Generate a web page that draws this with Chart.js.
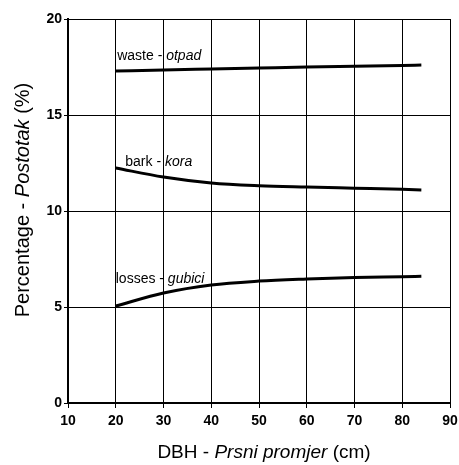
<!DOCTYPE html>
<html>
<head>
<meta charset="utf-8">
<script src="https://cdn.jsdelivr.net/npm/chart.js@4"></script>
<style>
  body { margin: 0; background: #fff; }
  #wrap { width: 459px; height: 465px; }
</style>
</head>
<body>
<div id="wrap"><canvas id="chart" width="459" height="465"></canvas></div>
<script>
// DBH values (cm) and percentages
const dbh = [20, 30, 40, 50, 60, 70, 80, 84];
const waste = [17.29, 17.35, 17.4, 17.45, 17.5, 17.54, 17.58, 17.6];
const bark = [12.24, 11.77, 11.46, 11.32, 11.25, 11.19, 11.13, 11.1];
const losses = [5.05, 5.73, 6.15, 6.35, 6.46, 6.54, 6.58, 6.6];

const xTicks = [10, 20, 30, 40, 50, 60, 70, 80, 90];
const yTicks = [0, 5, 10, 15, 20];

// curve labels: [x, y, plain part, italic part]
const curveLabels = [
    [20.3, 17.85, 'waste - ', 'otpad'],
    [22.0, 12.35, 'bark - ', 'kora'],
    [20.0, 6.25, 'losses - ', 'gubici']
];

const FONT = '"Liberation Sans", Arial, sans-serif';

function toPoints(ys) {
    return dbh.map((x, i) => ({ x: x, y: ys[i] }));
}

function series(ys) {
    return {
        data: toPoints(ys),
        borderColor: '#000',
        borderWidth: 3,
        pointRadius: 0,
        cubicInterpolationMode: 'monotone',
        fill: false
    };
}

// draws mixed plain/italic text
function mixedText(ctx, x, y, parts, size) {
    let cx = x;
    parts.forEach(p => {
        ctx.font = (p[1] ? 'italic ' : '') + size + 'px ' + FONT;
        ctx.fillText(p[0], cx, y);
        cx += ctx.measureText(p[0]).width;
    });
    return cx - x;
}

function mixedWidth(ctx, parts, size) {
    let w = 0;
    parts.forEach(p => {
        ctx.font = (p[1] ? 'italic ' : '') + size + 'px ' + FONT;
        w += ctx.measureText(p[0]).width;
    });
    return w;
}

const textPlugin = {
    id: 'texts',
    afterDatasetsDraw(chart) {
        const ctx = chart.ctx;
        const xs = chart.scales.x, ys = chart.scales.y;
        ctx.save();
        ctx.fillStyle = '#000';
        ctx.textBaseline = 'alphabetic';
        ctx.textAlign = 'left';
        curveLabels.forEach(l => {
            mixedText(ctx, xs.getPixelForValue(l[0]), ys.getPixelForValue(l[1]),
                [[l[2], false], [l[3], true]], 14);
        });

        // x axis title
        const xParts = [['DBH - ', false], ['Prsni promjer', true], [' (cm)', false]];
        const xw = mixedWidth(ctx, xParts, 19);
        mixedText(ctx, 264 - xw / 2, 458, xParts, 19);

        // y axis title
        const yParts = [['Percentage - ', false], ['Postotak', true], [' (%)', false]];
        const yw = mixedWidth(ctx, yParts, 20);
        ctx.translate(29, 200);
        ctx.rotate(-Math.PI / 2);
        mixedText(ctx, -yw / 2, 0, yParts, 20);
        ctx.restore();
    }
};

new Chart(document.getElementById('chart'), {
    type: 'line',
    data: {
        datasets: [series(waste), series(bark), series(losses)]
    },
    options: {
        responsive: false,
        animation: false,
        layout: { padding: { top: 19, right: 9, left: 0, bottom: 0 } },
        plugins: {
            legend: { display: false },
            tooltip: { enabled: false }
        },
        scales: {
            x: {
                type: 'linear',
                min: 10,
                max: 90,
                afterBuildTicks: s => { s.ticks = xTicks.map(v => ({ value: v })); },
                afterFit: s => { s.height = 62; s.paddingRight = 0; s.paddingLeft = 0; },
                grid: { color: '#000', lineWidth: 1, tickLength: 5, tickColor: '#000' },
                border: { color: '#000', width: 2 },
                ticks: {
                    color: '#000',
                    padding: 5,
                    maxRotation: 0,
                    font: { family: FONT, size: 14, weight: 'bold' }
                }
            },
            y: {
                min: 0,
                max: 20,
                afterBuildTicks: s => { s.ticks = yTicks.map(v => ({ value: v })); },
                afterFit: s => { s.width = 68; s.paddingTop = 0; s.paddingBottom = 0; },
                grid: { color: '#000', lineWidth: 1, tickLength: 4, tickColor: '#000' },
                border: { color: '#000', width: 2 },
                ticks: {
                    color: '#000',
                    padding: 2,
                    font: { family: FONT, size: 14, weight: 'bold' }
                }
            }
        }
    },
    plugins: [textPlugin]
});
</script>
</body>
</html>
